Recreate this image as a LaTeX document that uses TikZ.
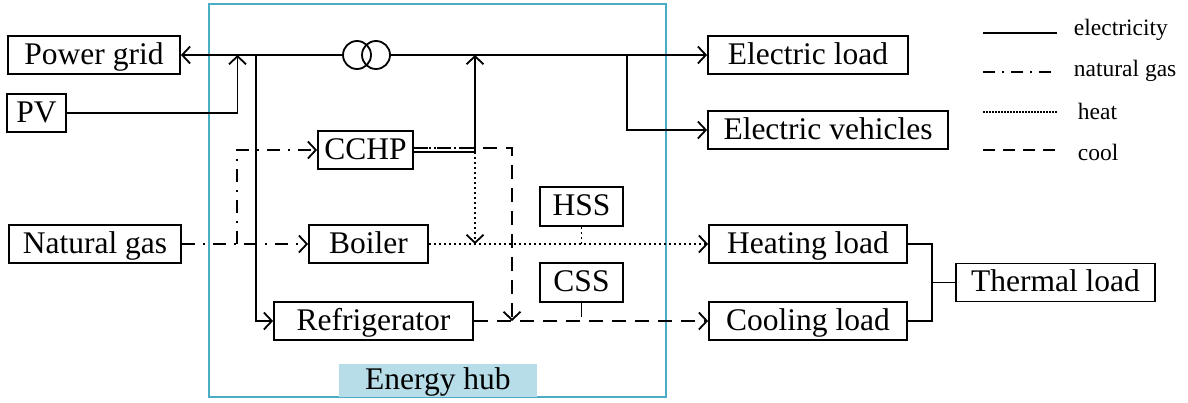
\documentclass[tikz,border=0pt]{standalone}
\usepackage{fontspec}
\setmainfont{Liberation Serif}
\usetikzlibrary{arrows.meta}
\definecolor{hubline}{HTML}{4BACC6}
\definecolor{hubfill}{HTML}{B7DDE8}
\begin{document}
\begin{tikzpicture}[x=1pt,y=-1pt,
  line width=1.8pt,
  box/.style={draw, line width=1.8pt, inner sep=0pt, minimum height=38pt,
    text height=22pt, text depth=4pt,
    font=\rmfamily\fontsize{31.5}{36}\selectfont},
  arr/.style={-{Straight Barb[length=8pt,width=17pt]}},
  elec/.style={solid},
  gas/.style={dash pattern=on 13pt off 8pt on 2pt off 8pt},
  heat/.style={dash pattern=on 2pt off 3pt},
  cool/.style={dash pattern=on 14pt off 9pt},
  legtext/.style={anchor=west, inner sep=0pt, font=\rmfamily\fontsize{23.5}{26}\selectfont},
  trafo/.style={draw, circle, line width=1.8pt, minimum size=28pt, inner sep=0pt}]
\useasboundingbox (0,0) rectangle (1188,402);

% energy hub frame
\draw[hubline, line width=1.6pt] (209,4) rectangle (666,397);
\node[fill=hubfill, minimum width=198pt, minimum height=33pt, inner sep=0pt,
  text height=22pt, text depth=4pt,
  font=\rmfamily\fontsize{31.5}{36}\selectfont] (hub) at (438,380.5) {Energy hub};

% nodes
\node[box, minimum width=172pt] (pg) at (94,55) {Power grid};
\node[box, minimum width=59pt] (pv) at (36.5,113) {PV};
\node[box, minimum width=172pt] (ng) at (95,244) {Natural gas};
\node[box, minimum width=95pt] (cchp) at (365.5,150) {CCHP};
\node[box, minimum width=119pt] (boiler) at (368.5,244) {Boiler};
\node[box, minimum width=199pt] (refr) at (373.5,321) {Refrigerator};
\node[box, minimum width=83pt, minimum height=39pt] (hss) at (581.5,206.5) {HSS};
\node[box, minimum width=83pt, minimum height=39pt] (css) at (581.5,282.5) {CSS};
\node[box, minimum width=200pt] (eload) at (808,55) {Electric load};
\node[box, minimum width=240pt] (ev) at (828,130) {Electric vehicles};
\node[box, minimum width=198pt] (heat) at (808,244) {Heating load};
\node[box, minimum width=198pt] (cool) at (808,321) {Cooling load};
\node[box, minimum width=199pt] (thermal) at (1055.5,282.5) {Thermal load};

\node[trafo] (t1) at (357,55) {};
\node[trafo] (t2) at (376,55) {};

% junction coordinates
\coordinate (jpv) at (237.5,55);
\coordinate (jref) at (256,55);
\coordinate (jcchp) at (475,55);
\coordinate (jev) at (627,55);
\coordinate (jgas) at (237,244);
\coordinate (jheat) at (475,244);
\coordinate (jcool) at (512,321);
\coordinate (jbr) at (932,282.5);

% electricity
\draw[elec, arr] (t1.west) -- (pg.east);
\draw[elec, arr] (t2.east) -- (eload.west);
\draw[elec, arr] (pv.east) -| (jpv);
\draw[elec, arr] (jref) |- (refr.west);
\draw[elec, arr] ([yshift=-2pt]cchp.east) -| (jcchp);
\draw[elec, arr] (jev) |- (ev.west);

% natural gas
\draw[gas, arr] (ng.east) -- (boiler.west);
\draw[gas, arr] (jgas) |- (cchp.west);

% heat
\draw[heat, arr] ([yshift=2pt]cchp.east) -| (jheat);
\draw[heat, arr] (boiler.east) -- (heat.west);
\draw[heat] (hss.south) -- (hss.south |- boiler.east);

% cool
\draw[cool, arr] ([yshift=2pt]cchp.east) -| (jcool);
\draw[cool, arr] (refr.east) -- (cool.west);
\draw[cool] (css.south) -- (css.south |- refr.east);

% thermal bracket
\draw[elec] (heat.east) -| (jbr) |- (cool.east);
\draw[elec] (jbr) -- (thermal.west);

% legend
\coordinate (l1a) at (983,33);  \coordinate (l1b) at (1057,33);
\coordinate (l2a) at (983,72);  \coordinate (l2b) at (1057,72);
\coordinate (l3a) at (983,112); \coordinate (l3b) at (1057,112);
\coordinate (l4a) at (983,150); \coordinate (l4b) at (1057,150);
\draw[elec, line width=1.3pt] (l1a) -- (l1b);
\draw[line width=1.3pt, dash pattern=on 12pt off 7pt on 2pt off 7pt] (l2a) -- (l2b);
\draw[line width=1.3pt, dash pattern=on 1.5pt off 1.5pt] (l3a) -- (l3b);
\draw[line width=1.3pt, dash pattern=on 12pt off 8pt] (l4a) -- (l4b);
\node[legtext] (t-el) at (1073,30) {electricity};
\node[legtext] (t-ng) at (1073,71) {natural gas};
\node[legtext] (t-ht) at (1077,111) {heat};
\node[legtext] (t-cl) at (1077,152) {cool};
\end{tikzpicture}
\end{document}
